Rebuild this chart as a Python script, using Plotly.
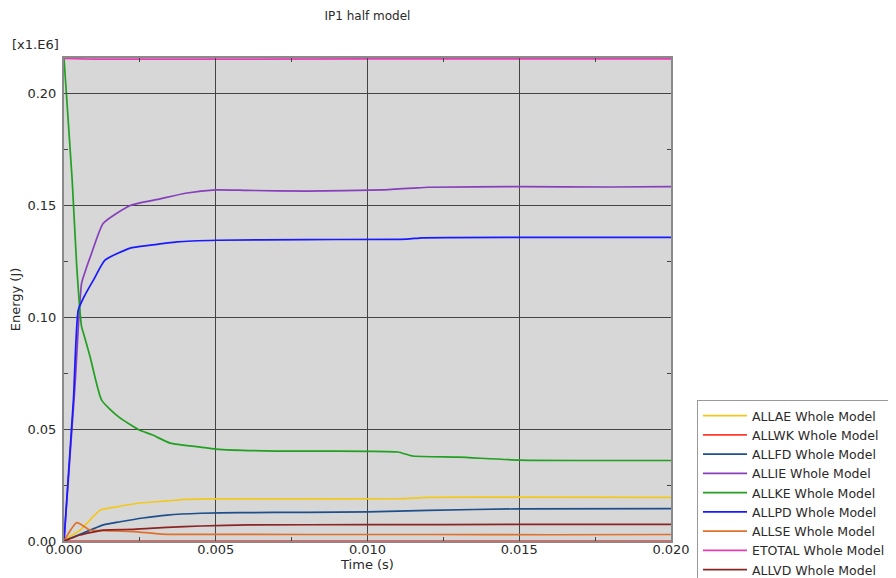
import plotly.graph_objects as go

# ---- data (energy values in units of x1.E6 J) ----
t_allae = [0, 0.0002, 0.00053, 0.0009, 0.0012, 0.00174, 0.0025, 0.0034, 0.004, 0.005, 0.008, 0.011, 0.012, 0.015, 0.02]
allae = [0, 0.002, 0.0049, 0.010, 0.0139, 0.0153, 0.0170, 0.0179, 0.0186, 0.0188, 0.0188, 0.0189, 0.0195, 0.0196, 0.0195]

t_allwk = [0, 0.005, 0.01, 0.015, 0.02]
allwk = [0, 0, 0, 0, 0]

t_allfd = [0, 0.00053, 0.0013, 0.00185, 0.0026, 0.0034, 0.0045, 0.0058, 0.008, 0.010, 0.012, 0.015, 0.02]
allfd = [0, 0.0030, 0.0072, 0.0086, 0.0103, 0.0116, 0.0124, 0.0127, 0.0128, 0.0130, 0.0137, 0.0144, 0.0145]

t_allie = [0, 0.00036, 0.00058, 0.00075, 0.00091, 0.00129, 0.00218, 0.00317, 0.004, 0.005, 0.006, 0.008, 0.0105, 0.0115, 0.012, 0.015, 0.018, 0.02]
allie = [0, 0.069, 0.1153, 0.1226, 0.1287, 0.142, 0.150, 0.153, 0.1555, 0.157, 0.1568, 0.1565, 0.157, 0.1578, 0.1582, 0.1585, 0.1583, 0.1585]

t_allke = [0, 0.00027, 0.00042, 0.00058, 0.00064, 0.00086, 0.00124, 0.0018, 0.0025, 0.0029, 0.0035, 0.0045, 0.005, 0.007, 0.008, 0.010, 0.011, 0.0115, 0.013, 0.015, 0.02]
allke = [0.216, 0.1614, 0.1226, 0.0958, 0.093, 0.0824, 0.063, 0.0555, 0.0495, 0.0475, 0.0438, 0.042, 0.0411, 0.0402, 0.0402, 0.0401, 0.0398, 0.038, 0.0375, 0.0362, 0.0360]

t_allpd = [0, 0.00031, 0.00047, 0.00069, 0.00097, 0.00135, 0.00218, 0.00284, 0.00372, 0.00504, 0.008, 0.0113, 0.0118, 0.015, 0.02]
allpd = [0, 0.063, 0.1033, 0.110, 0.1167, 0.1256, 0.131, 0.1323, 0.1338, 0.1345, 0.1348, 0.135, 0.1356, 0.1358, 0.1358]

t_allse = [0, 0.00042, 0.00086, 0.0013, 0.0023, 0.0032, 0.0045, 0.008, 0.012, 0.016, 0.02]
allse = [0, 0.0082, 0.0049, 0.0046, 0.0042, 0.0031, 0.0030, 0.0029, 0.0029, 0.0028, 0.0029]

t_etotal = [0, 0.001, 0.01, 0.02]
etotal = [0.2158, 0.2155, 0.2156, 0.2156]

t_allvd = [0, 0.00053, 0.0013, 0.0023, 0.0034, 0.0045, 0.0061, 0.01, 0.015, 0.02]
allvd = [0, 0.0027, 0.0049, 0.0052, 0.0061, 0.0067, 0.0072, 0.0073, 0.0074, 0.0074]

series = [
    ("ALLAE Whole Model", t_allae, allae, "#f2c81e"),
    ("ALLWK Whole Model", t_allwk, allwk, "#ff3a2e"),
    ("ALLFD Whole Model", t_allfd, allfd, "#1f4f8a"),
    ("ALLIE Whole Model", t_allie, allie, "#8740bb"),
    ("ALLKE Whole Model", t_allke, allke, "#21a021"),
    ("ALLPD Whole Model", t_allpd, allpd, "#1a1aff"),
    ("ALLSE Whole Model", t_allse, allse, "#e0702a"),
    ("ETOTAL Whole Model", t_etotal, etotal, "#e040b0"),
    ("ALLVD Whole Model", t_allvd, allvd, "#8b2525"),
]

font_family = "DejaVu Sans, Verdana, sans-serif"
text_color = "#2a2a2a"

# the page body adds an ~8px offset; figure is sized to fit the window
W, H = 888, 570
L, T = 56, 50
PW = 663 - L

fig = go.Figure()
for name, t, v, c in series:
    fig.add_trace(go.Scatter(x=t, y=v, mode="lines", name=name,
                             line=dict(color=c, width=1.7, shape="spline", smoothing=0.5)))

fig.update_layout(
    width=W, height=H,
    paper_bgcolor="white",
    plot_bgcolor="#d7d7d7",
    font=dict(family=font_family, size=13, color=text_color),
    margin=dict(l=L, r=W - 663, t=T, b=H - 533, autoexpand=False),
    title=dict(text="IP1 half model", x=0.5, xref="paper", y=1 - 8/H, yanchor="middle",
               font=dict(size=12, color=text_color), automargin=False),
    showlegend=True,
    legend=dict(xref="container", yref="container", x=(697 - 8)/W, y=1 - (400 - 8)/H,
                xanchor="left", yanchor="top",
                bgcolor="white", bordercolor="#999999", borderwidth=1,
                font=dict(size=12.5, color=text_color), tracegroupgap=0,
                itemwidth=44),
)

fig.update_xaxes(
    range=[0, 0.02], dtick=0.005, tick0=0, tickformat=".3f", automargin=False,
    showgrid=True, gridcolor="#444444", gridwidth=1,
    showline=True, linecolor="#8a8a8a", linewidth=2, mirror="allticks",
    ticks="inside", ticklen=4, tickcolor="#444444",
    minor=dict(dtick=0.0025, ticks="inside", ticklen=4, tickcolor="#444444", showgrid=False),
    zeroline=False, ticklabelstandoff=-5,
    title=dict(text="Time (s)", font=dict(size=13, color=text_color), standoff=4),
    tickfont=dict(size=13, color=text_color),
)
fig.update_yaxes(
    range=[0, 0.216], dtick=0.05, tick0=0, tickformat=".2f", automargin=False,
    showgrid=True, gridcolor="#444444", gridwidth=1,
    showline=True, linecolor="#8a8a8a", linewidth=2, mirror="allticks",
    ticks="inside", ticklen=4, tickcolor="#444444",
    minor=dict(dtick=0.025, ticks="inside", ticklen=4, tickcolor="#444444", showgrid=False),
    zeroline=False, ticklabelstandoff=3,
    title=dict(text="Energy (J)", font=dict(size=13, color=text_color), standoff=9),
    tickfont=dict(size=13, color=text_color),
)

fig.add_annotation(text="[x1.E6]", xref="paper", yref="paper", x=-54/PW, y=1,
                   xanchor="left", yanchor="bottom", showarrow=False,
                   font=dict(size=13, color=text_color), yshift=4)

fig.write_html("out.html")
